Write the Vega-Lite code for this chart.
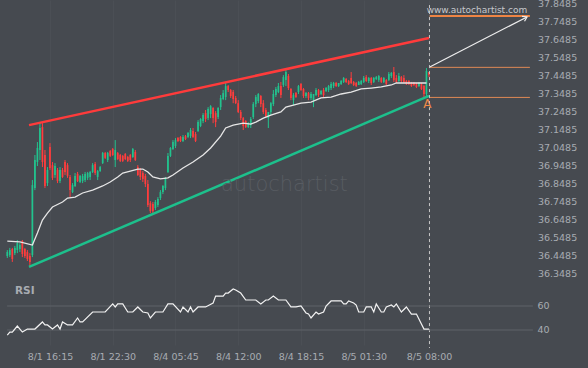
{
"$schema": "https://vega.github.io/schema/vega-lite/v6.json",
"width": 530, "height": 345,
"autosize": {"type": "none"},
"padding": {"left": 0, "top": 0, "right": 58, "bottom": 23},
"background": "#464a50",
"config": {"view": {"stroke": null}, "font": "DejaVu Sans"},
"datasets": {
"candles": [
{"t":0,"o":36.443,"h":36.476,"l":36.432,"c":36.465},
{"t":1,"o":36.448,"h":36.488,"l":36.437,"c":36.476},
{"t":2,"o":36.482,"h":36.488,"l":36.410,"c":36.426},
{"t":3,"o":36.459,"h":36.499,"l":36.448,"c":36.488},
{"t":4,"o":36.476,"h":36.532,"l":36.459,"c":36.515},
{"t":5,"o":36.482,"h":36.515,"l":36.465,"c":36.504},
{"t":6,"o":36.526,"h":36.532,"l":36.437,"c":36.454},
{"t":7,"o":36.482,"h":36.488,"l":36.432,"c":36.443},
{"t":8,"o":36.465,"h":36.476,"l":36.415,"c":36.426},
{"t":9,"o":36.443,"h":36.459,"l":36.382,"c":36.410},
{"t":10,"o":36.448,"h":36.865,"l":36.437,"c":36.837},
{"t":11,"o":36.821,"h":37.004,"l":36.809,"c":36.976},
{"t":12,"o":36.965,"h":37.076,"l":36.943,"c":37.043},
{"t":13,"o":37.032,"h":37.181,"l":36.976,"c":37.154},
{"t":14,"o":37.159,"h":37.181,"l":36.937,"c":36.965},
{"t":15,"o":37.004,"h":37.032,"l":36.821,"c":36.832},
{"t":16,"o":36.848,"h":36.937,"l":36.832,"c":36.921},
{"t":17,"o":37.048,"h":37.070,"l":36.921,"c":36.932},
{"t":18,"o":36.948,"h":36.965,"l":36.865,"c":36.877},
{"t":19,"o":36.893,"h":36.959,"l":36.877,"c":36.943},
{"t":20,"o":36.921,"h":36.932,"l":36.848,"c":36.859},
{"t":21,"o":36.859,"h":36.937,"l":36.848,"c":36.921},
{"t":22,"o":36.921,"h":36.932,"l":36.877,"c":36.882},
{"t":23,"o":36.965,"h":36.976,"l":36.893,"c":36.910},
{"t":24,"o":36.948,"h":36.959,"l":36.877,"c":36.888},
{"t":25,"o":36.882,"h":36.893,"l":36.770,"c":36.809},
{"t":26,"o":36.798,"h":36.848,"l":36.793,"c":36.837},
{"t":27,"o":36.832,"h":36.904,"l":36.826,"c":36.888},
{"t":28,"o":36.899,"h":36.910,"l":36.854,"c":36.859},
{"t":29,"o":36.854,"h":36.893,"l":36.848,"c":36.888},
{"t":30,"o":36.859,"h":36.899,"l":36.848,"c":36.888},
{"t":31,"o":36.865,"h":36.910,"l":36.854,"c":36.899},
{"t":32,"o":36.877,"h":36.910,"l":36.865,"c":36.904},
{"t":33,"o":36.882,"h":36.915,"l":36.865,"c":36.910},
{"t":34,"o":36.910,"h":36.959,"l":36.904,"c":36.948},
{"t":35,"o":36.954,"h":36.965,"l":36.893,"c":36.904},
{"t":36,"o":36.882,"h":36.921,"l":36.865,"c":36.915},
{"t":37,"o":36.915,"h":36.943,"l":36.910,"c":36.937},
{"t":38,"o":36.959,"h":37.021,"l":36.954,"c":37.015},
{"t":39,"o":37.015,"h":37.021,"l":36.982,"c":36.988},
{"t":40,"o":36.976,"h":37.021,"l":36.965,"c":37.015},
{"t":41,"o":37.026,"h":37.032,"l":36.993,"c":36.999},
{"t":42,"o":37.037,"h":37.043,"l":36.999,"c":37.004},
{"t":43,"o":36.976,"h":37.087,"l":36.937,"c":37.032},
{"t":44,"o":37.015,"h":37.021,"l":36.976,"c":36.982},
{"t":45,"o":37.004,"h":37.010,"l":36.965,"c":36.971},
{"t":46,"o":36.999,"h":37.004,"l":36.965,"c":36.971},
{"t":47,"o":37.010,"h":37.015,"l":36.976,"c":36.982},
{"t":48,"o":36.993,"h":36.999,"l":36.965,"c":36.971},
{"t":49,"o":37.004,"h":37.010,"l":36.965,"c":36.976},
{"t":50,"o":36.993,"h":37.043,"l":36.988,"c":37.037},
{"t":51,"o":37.021,"h":37.032,"l":36.971,"c":36.976},
{"t":52,"o":36.937,"h":36.948,"l":36.888,"c":36.893},
{"t":53,"o":36.921,"h":36.932,"l":36.865,"c":36.882},
{"t":54,"o":36.904,"h":36.915,"l":36.854,"c":36.871},
{"t":55,"o":36.888,"h":36.899,"l":36.826,"c":36.843},
{"t":56,"o":36.843,"h":36.865,"l":36.715,"c":36.726},
{"t":57,"o":36.737,"h":36.748,"l":36.681,"c":36.692},
{"t":58,"o":36.732,"h":36.743,"l":36.681,"c":36.692},
{"t":59,"o":36.709,"h":36.754,"l":36.698,"c":36.743},
{"t":60,"o":36.726,"h":36.770,"l":36.715,"c":36.759},
{"t":61,"o":36.765,"h":36.809,"l":36.754,"c":36.798},
{"t":62,"o":36.798,"h":36.837,"l":36.787,"c":36.832},
{"t":63,"o":36.821,"h":36.882,"l":36.809,"c":36.877},
{"t":64,"o":36.910,"h":37.015,"l":36.904,"c":36.999},
{"t":65,"o":36.999,"h":37.048,"l":36.993,"c":37.043},
{"t":66,"o":37.037,"h":37.087,"l":37.032,"c":37.076},
{"t":67,"o":37.054,"h":37.098,"l":37.043,"c":37.087},
{"t":68,"o":37.098,"h":37.104,"l":37.076,"c":37.082},
{"t":69,"o":37.104,"h":37.109,"l":37.076,"c":37.082},
{"t":70,"o":37.082,"h":37.115,"l":37.076,"c":37.104},
{"t":71,"o":37.109,"h":37.115,"l":37.087,"c":37.093},
{"t":72,"o":37.104,"h":37.132,"l":37.098,"c":37.126},
{"t":73,"o":37.109,"h":37.154,"l":37.098,"c":37.143},
{"t":74,"o":37.137,"h":37.154,"l":37.098,"c":37.104},
{"t":75,"o":37.121,"h":37.132,"l":37.076,"c":37.082},
{"t":76,"o":37.137,"h":37.198,"l":37.132,"c":37.187},
{"t":77,"o":37.165,"h":37.209,"l":37.159,"c":37.204},
{"t":78,"o":37.193,"h":37.237,"l":37.181,"c":37.226},
{"t":79,"o":37.237,"h":37.254,"l":37.187,"c":37.204},
{"t":80,"o":37.209,"h":37.270,"l":37.198,"c":37.259},
{"t":81,"o":37.232,"h":37.281,"l":37.209,"c":37.276},
{"t":82,"o":37.265,"h":37.270,"l":37.181,"c":37.209},
{"t":83,"o":37.237,"h":37.248,"l":37.159,"c":37.187},
{"t":84,"o":37.215,"h":37.270,"l":37.204,"c":37.265},
{"t":85,"o":37.270,"h":37.337,"l":37.254,"c":37.321},
{"t":86,"o":37.315,"h":37.365,"l":37.309,"c":37.348},
{"t":87,"o":37.326,"h":37.404,"l":37.309,"c":37.387},
{"t":88,"o":37.387,"h":37.393,"l":37.354,"c":37.365},
{"t":89,"o":37.365,"h":37.371,"l":37.321,"c":37.332},
{"t":90,"o":37.354,"h":37.365,"l":37.292,"c":37.315},
{"t":91,"o":37.321,"h":37.332,"l":37.287,"c":37.292},
{"t":92,"o":37.292,"h":37.309,"l":37.237,"c":37.243},
{"t":93,"o":37.243,"h":37.254,"l":37.198,"c":37.209},
{"t":94,"o":37.209,"h":37.215,"l":37.143,"c":37.165},
{"t":95,"o":37.193,"h":37.198,"l":37.154,"c":37.159},
{"t":96,"o":37.159,"h":37.187,"l":37.154,"c":37.181},
{"t":97,"o":37.170,"h":37.215,"l":37.154,"c":37.204},
{"t":98,"o":37.215,"h":37.298,"l":37.204,"c":37.287},
{"t":99,"o":37.287,"h":37.337,"l":37.270,"c":37.326},
{"t":100,"o":37.304,"h":37.348,"l":37.292,"c":37.343},
{"t":101,"o":37.332,"h":37.337,"l":37.270,"c":37.287},
{"t":102,"o":37.292,"h":37.309,"l":37.232,"c":37.243},
{"t":103,"o":37.254,"h":37.265,"l":37.209,"c":37.220},
{"t":104,"o":37.209,"h":37.243,"l":37.154,"c":37.243},
{"t":105,"o":37.243,"h":37.298,"l":37.226,"c":37.292},
{"t":106,"o":37.287,"h":37.365,"l":37.276,"c":37.343},
{"t":107,"o":37.337,"h":37.382,"l":37.326,"c":37.371},
{"t":108,"o":37.354,"h":37.404,"l":37.348,"c":37.387},
{"t":109,"o":37.387,"h":37.410,"l":37.321,"c":37.337},
{"t":110,"o":37.393,"h":37.448,"l":37.382,"c":37.437},
{"t":111,"o":37.421,"h":37.476,"l":37.387,"c":37.465},
{"t":112,"o":37.443,"h":37.454,"l":37.365,"c":37.376},
{"t":113,"o":37.371,"h":37.376,"l":37.309,"c":37.321},
{"t":114,"o":37.309,"h":37.348,"l":37.281,"c":37.337},
{"t":115,"o":37.348,"h":37.354,"l":37.321,"c":37.326},
{"t":116,"o":37.354,"h":37.393,"l":37.343,"c":37.387},
{"t":117,"o":37.398,"h":37.404,"l":37.360,"c":37.365},
{"t":118,"o":37.371,"h":37.376,"l":37.321,"c":37.332},
{"t":119,"o":37.332,"h":37.354,"l":37.321,"c":37.348},
{"t":120,"o":37.348,"h":37.354,"l":37.309,"c":37.321},
{"t":121,"o":37.321,"h":37.354,"l":37.309,"c":37.343},
{"t":122,"o":37.309,"h":37.343,"l":37.270,"c":37.343},
{"t":123,"o":37.337,"h":37.376,"l":37.332,"c":37.365},
{"t":124,"o":37.365,"h":37.371,"l":37.326,"c":37.337},
{"t":125,"o":37.343,"h":37.365,"l":37.337,"c":37.360},
{"t":126,"o":37.365,"h":37.376,"l":37.326,"c":37.337},
{"t":127,"o":37.360,"h":37.382,"l":37.354,"c":37.376},
{"t":128,"o":37.365,"h":37.393,"l":37.354,"c":37.387},
{"t":129,"o":37.376,"h":37.410,"l":37.365,"c":37.398},
{"t":130,"o":37.387,"h":37.410,"l":37.376,"c":37.404},
{"t":131,"o":37.404,"h":37.410,"l":37.382,"c":37.387},
{"t":132,"o":37.387,"h":37.404,"l":37.382,"c":37.404},
{"t":133,"o":37.398,"h":37.421,"l":37.393,"c":37.415},
{"t":134,"o":37.410,"h":37.437,"l":37.404,"c":37.432},
{"t":135,"o":37.426,"h":37.432,"l":37.404,"c":37.410},
{"t":136,"o":37.415,"h":37.421,"l":37.393,"c":37.398},
{"t":137,"o":37.432,"h":37.465,"l":37.398,"c":37.404},
{"t":138,"o":37.410,"h":37.415,"l":37.387,"c":37.393},
{"t":139,"o":37.404,"h":37.410,"l":37.382,"c":37.387},
{"t":140,"o":37.393,"h":37.415,"l":37.393,"c":37.410},
{"t":141,"o":37.398,"h":37.421,"l":37.393,"c":37.415},
{"t":142,"o":37.410,"h":37.443,"l":37.404,"c":37.432},
{"t":143,"o":37.437,"h":37.448,"l":37.410,"c":37.415},
{"t":144,"o":37.415,"h":37.437,"l":37.404,"c":37.432},
{"t":145,"o":37.432,"h":37.437,"l":37.393,"c":37.404},
{"t":146,"o":37.410,"h":37.437,"l":37.404,"c":37.432},
{"t":147,"o":37.426,"h":37.443,"l":37.421,"c":37.437},
{"t":148,"o":37.421,"h":37.448,"l":37.410,"c":37.443},
{"t":149,"o":37.432,"h":37.437,"l":37.404,"c":37.410},
{"t":150,"o":37.410,"h":37.437,"l":37.404,"c":37.432},
{"t":151,"o":37.421,"h":37.426,"l":37.393,"c":37.398},
{"t":152,"o":37.421,"h":37.465,"l":37.415,"c":37.454},
{"t":153,"o":37.443,"h":37.465,"l":37.432,"c":37.460},
{"t":154,"o":37.465,"h":37.493,"l":37.410,"c":37.421},
{"t":155,"o":37.432,"h":37.448,"l":37.404,"c":37.410},
{"t":156,"o":37.415,"h":37.460,"l":37.410,"c":37.443},
{"t":157,"o":37.437,"h":37.443,"l":37.404,"c":37.415},
{"t":158,"o":37.432,"h":37.448,"l":37.404,"c":37.410},
{"t":159,"o":37.415,"h":37.421,"l":37.393,"c":37.398},
{"t":160,"o":37.415,"h":37.421,"l":37.393,"c":37.398},
{"t":161,"o":37.404,"h":37.410,"l":37.382,"c":37.387},
{"t":162,"o":37.404,"h":37.410,"l":37.387,"c":37.393},
{"t":163,"o":37.398,"h":37.404,"l":37.376,"c":37.382},
{"t":164,"o":37.387,"h":37.410,"l":37.382,"c":37.404},
{"t":165,"o":37.398,"h":37.404,"l":37.365,"c":37.371},
{"t":166,"o":37.387,"h":37.393,"l":37.326,"c":37.343},
{"t":167,"o":37.343,"h":37.487,"l":37.326,"c":37.471},
{"t":168,"o":37.465,"h":37.465,"l":37.437,"c":37.448}
],
"ma": [
{"t":0,"v":36.526},{"t":5,"v":36.521},{"t":10,"v":36.504},{"t":12,"v":36.571},{"t":14,"v":36.643},{"t":16,"v":36.681},{"t":18,"v":36.715},{"t":22,"v":36.743},{"t":24,"v":36.765},{"t":27,"v":36.770},{"t":30,"v":36.793},{"t":34,"v":36.809},{"t":38,"v":36.832},{"t":41,"v":36.854},{"t":44,"v":36.882},{"t":46,"v":36.904},{"t":49,"v":36.915},{"t":52,"v":36.926},{"t":54,"v":36.926},{"t":56,"v":36.910},{"t":58,"v":36.882},{"t":61,"v":36.871},{"t":64,"v":36.877},{"t":66,"v":36.893},{"t":70,"v":36.932},{"t":74,"v":36.965},{"t":78,"v":37.004},{"t":81,"v":37.043},{"t":85,"v":37.109},{"t":87,"v":37.154},{"t":90,"v":37.170},{"t":94,"v":37.181},{"t":97,"v":37.176},{"t":99,"v":37.187},{"t":102,"v":37.209},{"t":105,"v":37.226},{"t":109,"v":37.243},{"t":111,"v":37.270},{"t":114,"v":37.281},{"t":117,"v":37.292},{"t":121,"v":37.298},{"t":125,"v":37.321},{"t":129,"v":37.326},{"t":133,"v":37.343},{"t":137,"v":37.354},{"t":141,"v":37.371},{"t":145,"v":37.376},{"t":149,"v":37.382},{"t":153,"v":37.393},{"t":155,"v":37.404},{"t":161,"v":37.404},{"t":167,"v":37.404}
],
"rsi": [
{"t":0,"r":35.8},{"t":1,"r":38.3},{"t":2,"r":38.3},{"t":4,"r":43.3},{"t":6,"r":38.3},{"t":8,"r":40.8},{"t":11,"r":40.8},{"t":14,"r":46.7},{"t":15,"r":44.2},{"t":16,"r":44.2},{"t":18,"r":40.8},{"t":20,"r":44.2},{"t":21,"r":40.8},{"t":22,"r":46.7},{"t":24,"r":44.2},{"t":26,"r":44.2},{"t":28,"r":50},{"t":29,"r":46.7},{"t":30,"r":46.7},{"t":34,"r":55},{"t":39,"r":55},{"t":42,"r":61.7},{"t":43,"r":59.2},{"t":44,"r":61.7},{"t":46,"r":61.7},{"t":48,"r":55},{"t":50,"r":55},{"t":52,"r":59.2},{"t":54,"r":55},{"t":56,"r":54.2},{"t":57,"r":50},{"t":59,"r":55},{"t":62,"r":55},{"t":64,"r":61.7},{"t":66,"r":61.7},{"t":69,"r":55},{"t":70,"r":59.2},{"t":72,"r":55},{"t":73,"r":59.2},{"t":74,"r":55},{"t":76,"r":59.2},{"t":79,"r":59.2},{"t":82,"r":62.5},{"t":83,"r":68.3},{"t":86,"r":68.3},{"t":87,"r":70.8},{"t":88,"r":70.8},{"t":90,"r":74.2},{"t":91,"r":73.3},{"t":93,"r":70.8},{"t":95,"r":65},{"t":99,"r":65},{"t":101,"r":61.7},{"t":103,"r":65},{"t":104,"r":65},{"t":106,"r":68.3},{"t":108,"r":65},{"t":111,"r":65},{"t":113,"r":59.2},{"t":115,"r":59.2},{"t":117,"r":60},{"t":119,"r":54.2},{"t":120,"r":53.3},{"t":121,"r":50},{"t":123,"r":55},{"t":124,"r":53.3},{"t":126,"r":55},{"t":127,"r":60},{"t":129,"r":64.2},{"t":133,"r":64.2},{"t":134,"r":61.7},{"t":135,"r":61.7},{"t":136,"r":64.2},{"t":138,"r":62.5},{"t":139,"r":60.8},{"t":140,"r":55},{"t":142,"r":55},{"t":143,"r":59.2},{"t":145,"r":59.2},{"t":146,"r":55},{"t":147,"r":61.7},{"t":149,"r":55},{"t":150,"r":55},{"t":151,"r":59.2},{"t":153,"r":60.8},{"t":154,"r":59.2},{"t":155,"r":61.7},{"t":157,"r":55},{"t":159,"r":59.2},{"t":161,"r":53.3},{"t":163,"r":53.3},{"t":166,"r":40.8},{"t":168,"r":40.8}
],
"priceTicks": [
{"p":36.3485},{"p":36.4485},{"p":36.5485},{"p":36.6485},{"p":36.7485},{"p":36.8485},{"p":36.9485},{"p":37.0485},{"p":37.1485},{"p":37.2485},{"p":37.3485},{"p":37.4485},{"p":37.5485},{"p":37.6485},{"p":37.7485},{"p":37.8485}
]
},
"layer": [
{
"layer": [
{
"data": {"name": "candles"},
"mark": {"type": "rule", "strokeWidth": 1},
"encoding": {
"x": {"field": "t", "type": "quantitative", "scale": {"domain": [-2.908, 208.247], "nice": false, "zero": false},
 "axis": {"values": [17, 42, 67, 92, 117, 142, 168], "labelExpr": "datum.value == 17 ? '8/1 16:15' : datum.value == 42 ? '8/1 22:30' : datum.value == 67 ? '8/4 05:45' : datum.value == 92 ? '8/4 12:00' : datum.value == 117 ? '8/4 18:15' : datum.value == 142 ? '8/5 01:30' : '8/5 08:00'", "title": null, "domain": false, "ticks": false, "grid": true, "gridColor": "#4b4f55", "gridWidth": 1, "labelColor": "#a8acb2", "labelFont": "DejaVu Sans", "labelFontSize": 9.5, "labelPadding": 6, "labelFlush": false, "labelOverlap": false}},
"y": {"field": "l", "type": "quantitative", "scale": {"domain": [35.9485, 37.8652], "nice": false, "zero": false}, "axis": null},
"y2": {"field": "h"},
"color": {"condition": {"test": "datum.c >= datum.o", "value": "#22c38e"}, "value": "#ff3d3d"}
}
},
{
"data": {"name": "candles"},
"mark": {"type": "rule", "strokeWidth": 1.7},
"encoding": {
"x": {"field": "t", "type": "quantitative", "scale": {"domain": [-2.908, 208.247], "nice": false, "zero": false}},
"y": {"field": "o", "type": "quantitative", "scale": {"domain": [35.9485, 37.8652], "nice": false, "zero": false}, "axis": null},
"y2": {"field": "c"},
"color": {"condition": {"test": "datum.c >= datum.o", "value": "#22c38e"}, "value": "#ff3d3d"}
}
},
{
"data": {"name": "ma"},
"mark": {"type": "line", "color": "#e6e6e6", "strokeWidth": 1.3},
"encoding": {
"x": {"field": "t", "type": "quantitative", "scale": {"domain": [-2.908, 208.247], "nice": false, "zero": false}},
"y": {"field": "v", "type": "quantitative", "scale": {"domain": [35.9485, 37.8652], "nice": false, "zero": false}, "axis": null}
}
},
{
"data": {"values": [{"line": "resistance", "t1": 8.65, "p1": 37.170, "t2": 168.0, "p2": 37.654}]},
"mark": {"type": "rule", "color": "#ff3b3b", "strokeWidth": 2.5},
"encoding": {
"x": {"field": "t1", "type": "quantitative", "scale": {"domain": [-2.908, 208.247], "nice": false, "zero": false}},
"x2": {"field": "t2"},
"y": {"field": "p1", "type": "quantitative", "scale": {"domain": [35.9485, 37.8652], "nice": false, "zero": false}, "axis": null},
"y2": {"field": "p2"}
}
},
{
"data": {"values": [{"line": "support", "t1": 8.65, "p1": 36.382, "t2": 168.0, "p2": 37.332}]},
"mark": {"type": "rule", "color": "#1dc08c", "strokeWidth": 2.5},
"encoding": {
"x": {"field": "t1", "type": "quantitative", "scale": {"domain": [-2.908, 208.247], "nice": false, "zero": false}},
"x2": {"field": "t2"},
"y": {"field": "p1", "type": "quantitative", "scale": {"domain": [35.9485, 37.8652], "nice": false, "zero": false}, "axis": null},
"y2": {"field": "p2"}
}
},
{
"data": {"values": [{"level": "target", "p": 37.776, "t1": 168.3, "t2": 208.2}]},
"mark": {"type": "rule", "color": "#ee8444", "strokeWidth": 2},
"encoding": {
"x": {"field": "t1", "type": "quantitative", "scale": {"domain": [-2.908, 208.247], "nice": false, "zero": false}},
"x2": {"field": "t2"},
"y": {"field": "p", "type": "quantitative", "scale": {"domain": [35.9485, 37.8652], "nice": false, "zero": false}, "axis": null}
}
},
{
"data": {"values": [{"level": "last", "p": 37.491, "t1": 168.3, "t2": 208.2}, {"level": "low", "p": 37.324, "t1": 168.3, "t2": 208.2}]},
"mark": {"type": "rule", "color": "#e08a55", "strokeWidth": 1},
"encoding": {
"x": {"field": "t1", "type": "quantitative", "scale": {"domain": [-2.908, 208.247], "nice": false, "zero": false}},
"x2": {"field": "t2"},
"y": {"field": "p", "type": "quantitative", "scale": {"domain": [35.9485, 37.8652], "nice": false, "zero": false}, "axis": null}
}
},
{
"data": {"values": [{"t1": 168.3, "p1": 37.493, "t2": 207.05, "p2": 37.771}]},
"mark": {"type": "rule", "color": "#eeeeee", "strokeWidth": 1.2},
"encoding": {
"x": {"field": "t1", "type": "quantitative", "scale": {"domain": [-2.908, 208.247], "nice": false, "zero": false}},
"x2": {"field": "t2"},
"y": {"field": "p1", "type": "quantitative", "scale": {"domain": [35.9485, 37.8652], "nice": false, "zero": false}, "axis": null},
"y2": {"field": "p2"}
}
},
{
"data": {"values": [{"t": 207.05, "p": 37.771}]},
"mark": {"type": "point", "shape": "M-1,-0.65L0,0L-1,0.65", "filled": false, "stroke": "#eeeeee", "strokeWidth": 1.2, "size": 70, "angle": 332.7, "opacity": 1},
"encoding": {
"x": {"field": "t", "type": "quantitative", "scale": {"domain": [-2.908, 208.247], "nice": false, "zero": false}},
"y": {"field": "p", "type": "quantitative", "scale": {"domain": [35.9485, 37.8652], "nice": false, "zero": false}, "axis": null}
}
},
{
"data": {"values": [{"t": 168.2, "top": 37.837, "bottom": 35.932}]},
"mark": {"type": "rule", "color": "#c8c8c8", "strokeWidth": 1, "strokeDash": [3, 3]},
"encoding": {
"x": {"field": "t", "type": "quantitative", "scale": {"domain": [-2.908, 208.247], "nice": false, "zero": false}},
"y": {"field": "top", "type": "quantitative", "scale": {"domain": [35.9485, 37.8652], "nice": false, "zero": false}, "axis": null},
"y2": {"field": "bottom"}
}
},
{
"data": {"values": [{"t": 167.4, "p": 37.290, "label": "A"}]},
"mark": {"type": "text", "color": "#f08a48", "fontSize": 12, "font": "DejaVu Sans", "align": "center", "baseline": "middle"},
"encoding": {
"x": {"field": "t", "type": "quantitative", "scale": {"domain": [-2.908, 208.247], "nice": false, "zero": false}},
"y": {"field": "p", "type": "quantitative", "scale": {"domain": [35.9485, 37.8652], "nice": false, "zero": false}, "axis": null},
"text": {"field": "label"}
}
},
{
"data": {"values": [{"t": 187.1, "p": 37.807, "label": "www.autochartist.com"}]},
"mark": {"type": "text", "color": "#c6c8cc", "fontSize": 9, "font": "DejaVu Sans", "align": "center", "baseline": "middle"},
"encoding": {
"x": {"field": "t", "type": "quantitative", "scale": {"domain": [-2.908, 208.247], "nice": false, "zero": false}},
"y": {"field": "p", "type": "quantitative", "scale": {"domain": [35.9485, 37.8652], "nice": false, "zero": false}, "axis": null},
"text": {"field": "label"}
}
},
{
"data": {"values": [{"t": 110.4, "p": 36.837, "label": "autochartist"}]},
"mark": {"type": "text", "color": "#585c62", "fontSize": 21, "font": "DejaVu Sans", "fontWeight": 300, "align": "center", "baseline": "middle"},
"encoding": {
"x": {"field": "t", "type": "quantitative", "scale": {"domain": [-2.908, 208.247], "nice": false, "zero": false}},
"y": {"field": "p", "type": "quantitative", "scale": {"domain": [35.9485, 37.8652], "nice": false, "zero": false}, "axis": null},
"text": {"field": "label"}
}
},
{
"data": {"name": "priceTicks"},
"mark": {"type": "text", "color": "#a8acb2", "fontSize": 9.5, "font": "DejaVu Sans", "align": "left", "baseline": "middle", "dy": 1.2},
"encoding": {
"x": {"datum": 211.4, "type": "quantitative", "scale": {"domain": [-2.908, 208.247], "nice": false, "zero": false}},
"y": {"field": "p", "type": "quantitative", "scale": {"domain": [35.9485, 37.8652], "nice": false, "zero": false}, "axis": null},
"text": {"field": "p", "type": "quantitative", "format": ".4f"}
}
}
]
},
{
"layer": [
{
"data": {"values": [{"r": 60, "t1": -0.1, "t2": 209.4}, {"r": 40, "t1": -0.1, "t2": 209.4}]},
"mark": {"type": "rule", "color": "#5e6268", "strokeWidth": 1},
"encoding": {
"x": {"field": "t1", "type": "quantitative", "scale": {"domain": [-2.908, 208.247], "nice": false, "zero": false}},
"x2": {"field": "t2"},
"y": {"field": "r", "type": "quantitative", "scale": {"domain": [27.5, 315], "nice": false, "zero": false}, "axis": null}
}
},
{
"data": {"values": [{"r": 60, "t": 211.2}, {"r": 40, "t": 211.2}]},
"mark": {"type": "text", "color": "#a8acb2", "fontSize": 9.5, "font": "DejaVu Sans", "align": "left", "baseline": "middle"},
"encoding": {
"x": {"field": "t", "type": "quantitative", "scale": {"domain": [-2.908, 208.247], "nice": false, "zero": false}},
"y": {"field": "r", "type": "quantitative", "scale": {"domain": [27.5, 315], "nice": false, "zero": false}, "axis": null},
"text": {"field": "r"}
}
},
{
"data": {"values": [{"t": 3.07, "r": 72.5, "label": "RSI"}]},
"mark": {"type": "text", "color": "#a8acb2", "fontSize": 10.5, "fontWeight": "bold", "font": "DejaVu Sans", "align": "left", "baseline": "middle"},
"encoding": {
"x": {"field": "t", "type": "quantitative", "scale": {"domain": [-2.908, 208.247], "nice": false, "zero": false}},
"y": {"field": "r", "type": "quantitative", "scale": {"domain": [27.5, 315], "nice": false, "zero": false}, "axis": null},
"text": {"field": "label"}
}
},
{
"data": {"name": "rsi"},
"mark": {"type": "line", "color": "#f2f2f2", "strokeWidth": 1.2},
"encoding": {
"x": {"field": "t", "type": "quantitative", "scale": {"domain": [-2.908, 208.247], "nice": false, "zero": false}},
"y": {"field": "r", "type": "quantitative", "scale": {"domain": [27.5, 315], "nice": false, "zero": false}, "axis": null}
}
}
]
}
],
"resolve": {"scale": {"y": "independent"}}
}
